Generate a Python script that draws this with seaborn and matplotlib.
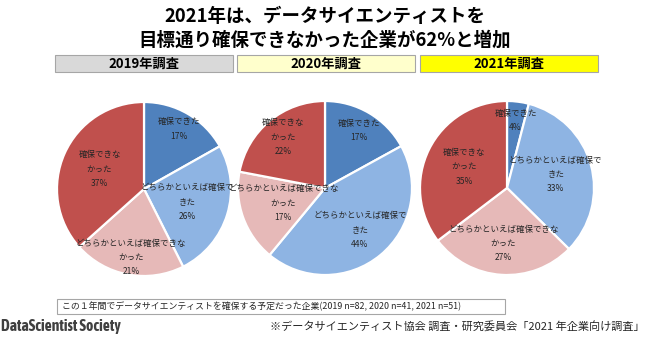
import numpy as np
import matplotlib
matplotlib.use("Agg")
import matplotlib.pyplot as plt
from matplotlib.patches import Rectangle
from matplotlib import font_manager
import seaborn as sns

# ---- data ----
years = ["2019年調査", "2020年調査", "2021年調査"]
categories = ["確保できた", "どちらかといえば確保できた",
              "どちらかといえば確保できなかった", "確保できなかった"]
wrapped_labels = ["確保できた", "どちらかといえば確保で\nきた",
                  "どちらかといえば確保できな\nかった", "確保できな\nかった"]
values_2019 = [17, 26, 21, 37]
values_2020 = [17, 44, 17, 22]
values_2021 = [4, 33, 27, 35]
title_lines = ["2021年は、データサイエンティストを", "目標通り確保できなかった企業が62%と増加"]
note_text = "この１年間でデータサイエンティストを確保する予定だった企業(2019 n=82, 2020 n=41, 2021 n=51)"
source_text = "※データサイエンティスト協会 調査・研究委員会「2021 年企業向け調査」"
brand_text = "DataScientist Society"

# ---- style ----
sns.set_theme(style="white")
plt.rcParams['font.family'] = ['Noto Sans CJK JP', 'DejaVu Sans']
colors = sns.color_palette(["#4F81BD", "#8EB4E3", "#E6B9B8", "#C0504D"])
header_fills = ["#D9D9D9", "#FFFFCC", "#FFFF00"]

# pick a condensed bold font for the brand text if one exists
narrow_family = None
for f in font_manager.fontManager.ttflist:
    if ("Narrow" in f.name or "Condensed" in f.name) and f.weight in ("bold", 700):
        narrow_family = f.name
        break
if narrow_family is None:
    for f in font_manager.fontManager.ttflist:
        if "Narrow" in f.name or "Condensed" in f.name:
            narrow_family = f.name
            break

W, H = 650, 340
fig = plt.figure(figsize=(6.5, 3.4), dpi=100)
fig.patch.set_facecolor("white")

def fx(x):
    return x / W

def fy(y):
    return 1 - y / H

# title
fig.text(0.5, fy(17), title_lines[0], ha="center", va="center",
         fontsize=13.3, fontweight="bold", color="black")
fig.text(0.5, fy(40), title_lines[1], ha="center", va="center",
         fontsize=13.3, fontweight="bold", color="black")

# header boxes
header_x = [55, 237, 420]
hw, ht, hb = 178, 55, 72
for xl, lab, fc in zip(header_x, years, header_fills):
    fig.add_artist(Rectangle((fx(xl), fy(hb)), hw / W, (hb - ht) / H,
                             transform=fig.transFigure, facecolor=fc,
                             edgecolor="#A6A6A6", linewidth=0.8))
    fig.text(fx(xl + hw / 2), fy((ht + hb) / 2), lab, ha="center", va="center",
             fontsize=9.5, fontweight="bold", color="black")

# pies
all_values = [values_2019, values_2020, values_2021]
centers = [(144, 189), (325, 188), (507, 188)]
radius_px = 87
label_dist = [[0.80, 0.52, 0.80, 0.56],
              [0.77, 0.63, 0.51, 0.76],
              [0.78, 0.58, 0.64, 0.55]]

for vals, (cx, cy), dists in zip(all_values, centers, label_dist):
    ax = fig.add_axes([fx(cx - radius_px), fy(cy + radius_px),
                       2 * radius_px / W, 2 * radius_px / H])
    wedges, _ = ax.pie(vals, colors=colors, startangle=90, counterclock=False,
                       wedgeprops=dict(edgecolor="white", linewidth=1.6))
    ax.set_xlim(-1, 1)
    ax.set_ylim(-1, 1)
    ax.set_aspect("equal")
    ax.axis("off")
    for w, lab, v, d in zip(wedges, wrapped_labels, vals, dists):
        ang = np.deg2rad((w.theta1 + w.theta2) / 2)
        ax.text(d * np.cos(ang), d * np.sin(ang), f"{lab}\n{v}%",
                ha="center", va="center", fontsize=6.1, color="#262626",
                linespacing=1.75, clip_on=False)

# note box
fig.add_artist(Rectangle((fx(57), fy(314)), (505 - 57) / W, 15 / H,
                         transform=fig.transFigure, facecolor="white",
                         edgecolor="#A6A6A6", linewidth=0.8))
fig.text(fx(62), fy(306.5), note_text, ha="left", va="center",
         fontsize=6.4, color="#262626")

# footer
brand_fam = [narrow_family, "DejaVu Sans"] if narrow_family else ["DejaVu Sans"]
brand_size = 11.2 if narrow_family else 8.3
fig.text(fx(1), fy(326), brand_text, ha="left", va="center",
         fontsize=brand_size, fontweight="bold", color="#404040",
         family=brand_fam)
fig.text(fx(645), fy(327), source_text, ha="right", va="center",
         fontsize=8, color="#262626")

fig.savefig("out.png", dpi=100, facecolor="white")
